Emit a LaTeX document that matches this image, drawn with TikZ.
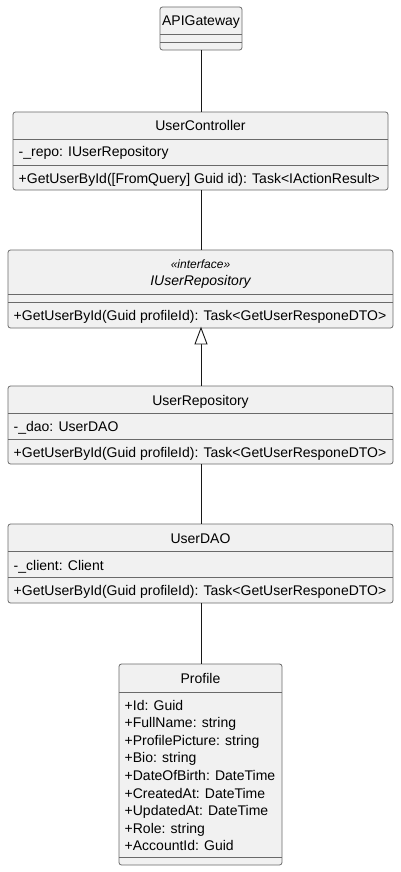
\documentclass[tikz,border=0pt]{standalone}
\usepackage{fontspec}
\setmainfont{Liberation Sans}
\usetikzlibrary{calc}
\definecolor{boxfill}{HTML}{F1F1F1}
\definecolor{boxline}{HTML}{6A6A6A}
\definecolor{conn}{HTML}{181818}
\begin{document}
\begin{tikzpicture}[x=1pt,y=-1pt,
  cbox/.style={draw=boxline, line width=0.8pt, fill=boxfill, rounded corners=2.5pt, inner sep=0pt},
  sepline/.style={draw=boxline, line width=0.8pt},
  ctitle/.style={inner sep=0pt, yshift=-1.5pt, font=\fontsize{14pt}{16pt}\selectfont, text height=10pt, text depth=3pt},
  stereo/.style={inner sep=0pt, yshift=-1.5pt, font=\fontsize{12pt}{14pt}\selectfont\itshape, text height=8.5pt, text depth=2.5pt},
  member/.style={inner sep=0pt, yshift=-1.5pt, anchor=west, font=\fontsize{14pt}{16pt}\selectfont, text height=10pt, text depth=3pt},
  conn/.style={draw=conn, line width=0.9pt},
  realize/.style={draw=conn, line width=0.9pt, fill=white}
]
\useasboundingbox (0,0) rectangle (400,872);
\fill[white] (0,0) rectangle (400,872);

% ---------- APIGateway ----------
\path[cbox] (160,7) rectangle (242,50);
\coordinate (apiT) at (201,7);
\coordinate (apiB) at (201,50);
\node[ctitle] (apiN) at (201,20.5) {APIGateway};
\draw[sepline] (160,34) -- (242,34);
\draw[sepline] (160,42) -- (242,42);

% ---------- UserController ----------
\path[cbox] (13,112) rectangle (388,190);
\coordinate (ucT) at (201,112);
\coordinate (ucB) at (201,190);
\node[ctitle] (ucN) at (200.5,125.5) {UserController};
\draw[sepline] (13,139) -- (388,139);
\node[member] (ucA) at (18.5,152) {-\_repo: IUserRepository};
\draw[sepline] (13,165) -- (388,165);
\node[member] (ucM) at (18.5,178) {+GetUserById([FromQuery] Guid id): Task<IActionResult>};

% ---------- IUserRepository ----------
\path[cbox] (8,250) rectangle (393,328);
\coordinate (iurT) at (201,250);
\coordinate (iurB) at (201,328);
\node[stereo] (iurS) at (200.5,264) {«interface»};
\node[ctitle, font=\fontsize{14pt}{16pt}\selectfont\itshape] (iurN) at (200.5,280.5) {IUserRepository};
\draw[sepline] (8,294) -- (393,294);
\draw[sepline] (8,302) -- (393,302);
\node[member] (iurM) at (13.5,315) {+GetUserById(Guid profileId): Task<GetUserResponeDTO>};

% ---------- UserRepository ----------
\path[cbox] (8,386) rectangle (393,464);
\coordinate (urT) at (201,386);
\coordinate (urB) at (201,464);
\node[ctitle] (urN) at (200.5,400) {UserRepository};
\draw[sepline] (8,413) -- (393,413);
\node[member] (urA) at (13.5,426.5) {-\_dao: UserDAO};
\draw[sepline] (8,439) -- (393,439);
\node[member] (urM) at (13.5,452.5) {+GetUserById(Guid profileId): Task<GetUserResponeDTO>};

% ---------- UserDAO ----------
\path[cbox] (8,524) rectangle (393,603);
\coordinate (daoT) at (201,524);
\coordinate (daoB) at (201,603);
\node[ctitle] (daoN) at (200.5,538.5) {UserDAO};
\draw[sepline] (8,551) -- (393,551);
\node[member] (daoA) at (13.5,565) {-\_client: Client};
\draw[sepline] (8,577) -- (393,577);
\node[member] (daoM) at (13.5,590.5) {+GetUserById(Guid profileId): Task<GetUserResponeDTO>};

% ---------- Profile ----------
\path[cbox] (119,664) rectangle (282,865);
\coordinate (prT) at (201,664);
\node[ctitle] (prN) at (200.5,678.5) {Profile};
\draw[sepline] (119,692) -- (282,692);
\node[member] (pr1) at (124.5,705) {+Id: Guid};
\node[member] (pr2) at (124.5,722.6) {+FullName: string};
\node[member] (pr3) at (124.5,740.2) {+ProfilePicture: string};
\node[member] (pr4) at (124.5,757.8) {+Bio: string};
\node[member] (pr5) at (124.5,775.4) {+DateOfBirth: DateTime};
\node[member] (pr6) at (124.5,793) {+CreatedAt: DateTime};
\node[member] (pr7) at (124.5,810.6) {+UpdatedAt: DateTime};
\node[member] (pr8) at (124.5,828.2) {+Role: string};
\node[member] (pr9) at (124.5,845.8) {+AccountId: Guid};
\draw[sepline] (119,857) -- (282,857);

% ---------- connectors ----------
\draw[conn] (apiB) -- (ucT);
\draw[conn] (ucB) -- (iurT);
\coordinate (triB) at (201,344);
\draw[conn] (urT) -- (triB);
\draw[realize] (iurB) -- (195,344) -- (207,344) -- cycle;
\draw[conn] (urB) -- (daoT);
\draw[conn] (daoB) -- (prT);
\end{tikzpicture}
\end{document}
